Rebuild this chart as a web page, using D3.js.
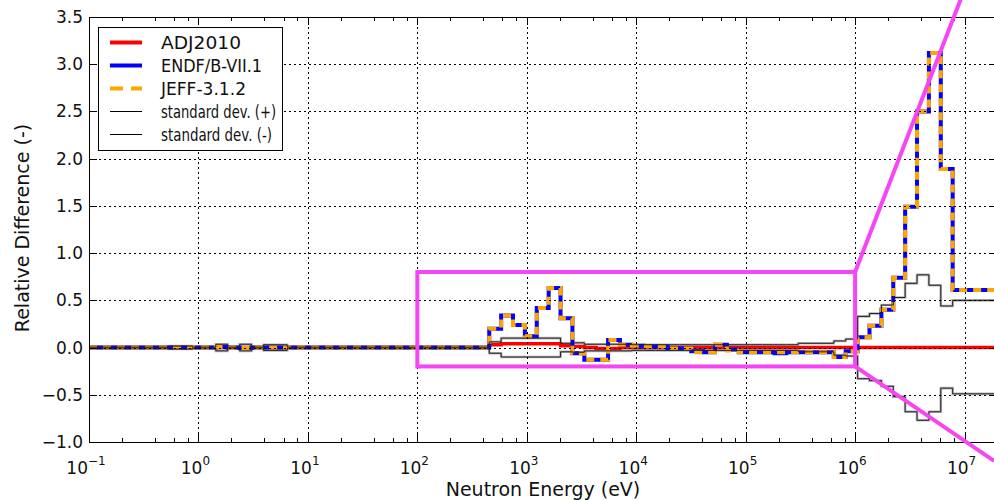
<!DOCTYPE html>
<html>
<head>
<meta charset="utf-8">
<script src="https://cdn.jsdelivr.net/npm/d3@7"></script>
<style>
body { margin: 0; background: #fff; }
svg { display: block; font-family: "DejaVu Sans", sans-serif; }
</style>
</head>
<body>
<svg id="chart" width="994" height="500"></svg>
<script>
// group boundaries (eV), one more than the values per series
var bounds = [0.1, 0.54, 0.88, 1.44, 1.85, 2.38, 3.06, 3.93, 6.48, 22.6, 148.6, 454,
    583, 748.5, 961.1, 1234, 1585, 2035, 2613, 3355, 4307, 5531, 7102, 9119,
    11709, 15034, 19305, 24788, 31828, 40868, 52475, 67379, 86517, 111090, 142642,
    183156, 235177, 301974, 387742, 497871, 639279, 820850, 1053992, 1353353,
    1737739, 2231302, 2865048, 3678794, 4723666, 6065307, 7788008, 19640000]

var adj2010 = [0, 0, 0, 0, 0, 0, 0, 0, 0, 0, 0,
    0.03, 0.04, 0.04, 0.04, 0.04, 0.04, 0.02, 0.01, 0, -0.01, -0.01, 0,
    0, 0, 0, 0, 0, 0, 0, 0, 0, 0, 0, 0, 0, 0, 0, 0, 0, 0, 0,
    0, 0, 0, 0, 0, 0, 0, 0, 0]

var endf = [0, 0, 0, 0.005, 0, -0.005, 0, 0, 0, 0, 0,
    0.20, 0.34, 0.24, 0.12, 0.42, 0.63, 0.31, -0.06, -0.13, -0.13, 0.08, 0.03,
    0.02, 0.01, 0.01, -0.01, -0.01, -0.04, -0.05, 0.03, -0.02, -0.05, -0.05, -0.05,
    -0.06, -0.05, -0.05, -0.05, -0.05, -0.10, -0.04,
    0.11, 0.23, 0.40, 0.74, 1.49, 2.50, 3.12, 1.89, 0.61]

var jeff = [0, 0, 0, 0.005, 0, -0.005, 0, 0, 0, 0, 0,
    0.20, 0.34, 0.24, 0.12, 0.42, 0.63, 0.31, -0.06, -0.13, -0.13, 0.08, 0.03,
    0.02, 0.01, 0.01, -0.01, -0.01, -0.05, -0.05, 0.03, -0.03, -0.05, -0.05, -0.05,
    -0.05, -0.05, -0.05, -0.05, -0.05, -0.10, -0.04,
    0.11, 0.23, 0.40, 0.74, 1.49, 2.50, 3.12, 1.89, 0.61]

var stdPlus = [0.005, 0.015, 0.005, 0.035, 0.005, 0.035, 0.005, 0.03, 0.005, 0.005, 0.005,
    0.06, 0.10, 0.10, 0.10, 0.10, 0.10, 0.045, 0.05, 0.035, 0.035, 0.035, 0.035,
    0.03, 0.03, 0.03, 0.03, 0.03, 0.03, 0.03, 0.03, 0.03, 0.03, 0.03, 0.03,
    0.03, 0.03, 0.045, 0.045, 0.045, 0.07, 0.09,
    0.33, 0.36, 0.45, 0.53, 0.68, 0.77, 0.66, 0.44, 0.50]

var stdMinus = [-0.005, -0.015, -0.005, -0.035, -0.005, -0.035, -0.005, -0.03, -0.005, -0.005, -0.005,
    -0.06, -0.10, -0.10, -0.10, -0.10, -0.10, -0.045, -0.05, -0.035, -0.035, -0.035, -0.035,
    -0.03, -0.03, -0.03, -0.03, -0.03, -0.03, -0.03, -0.03, -0.03, -0.03, -0.03, -0.03,
    -0.03, -0.03, -0.045, -0.045, -0.045, -0.08, -0.09,
    -0.33, -0.35, -0.41, -0.52, -0.68, -0.77, -0.68, -0.43, -0.49]

var seriesNames = ["ADJ2010", "ENDF/B-VII.1", "JEFF-3.1.2", "standard dev. (+)", "standard dev. (-)"]
var yTicks = [-1.0, -0.5, 0.0, 0.5, 1.0, 1.5, 2.0, 2.5, 3.0, 3.5]
var xExponents = [-1, 0, 1, 2, 3, 4, 5, 6, 7]

// magenta zoom box and its connector lines, in data units
var zoomBox = [[100, -0.2], [1e6, 0.8]]
var connectors = [[[1e6, 0.8], [1.86e7, 4.6]], [[1e6, -0.2], [1.86e7, -1.2]]]

var svg = d3.select("#chart")
var pLeft = 89, pTop = 17, pBottom = 442, pRight = 997.5

var x = d3.scaleLog().domain([0.1, 2e7]).range([pLeft, pRight])
var y = d3.scaleLinear().domain([-1, 3.5]).range([pBottom, pTop])

svg.append("defs").append("clipPath").attr("id", "plotclip")
    .append("rect").attr("x", pLeft).attr("y", pTop)
    .attr("width", pRight - pLeft).attr("height", pBottom - pTop)

function steps(vals) {
    var pts = vals.map(function(v, i) { return [bounds[i], v] })
    pts.push([bounds[bounds.length - 1], vals[vals.length - 1]])
    return pts
}
var stepLine = d3.line()
    .x(function(d) { return x(d[0]) })
    .y(function(d) { return y(d[1]) })
    .curve(d3.curveStepAfter)

var plot = svg.append("g").attr("clip-path", "url(#plotclip)")

// grey halo of the std lines sits under the data
;[stdPlus, stdMinus].forEach(function(s) {
    plot.append("path").attr("d", stepLine(steps(s)))
        .attr("fill", "none").attr("stroke", "#b4b4b4").attr("stroke-width", 2.6)
})
plot.append("path").attr("d", stepLine(steps(adj2010)))
    .attr("fill", "none").attr("stroke", "red").attr("stroke-width", 3.5)
plot.append("path").attr("d", stepLine(steps(endf)))
    .attr("fill", "none").attr("stroke", "blue").attr("stroke-width", 4)
plot.append("path").attr("d", stepLine(steps(jeff)))
    .attr("fill", "none").attr("stroke", "orange").attr("stroke-width", 4)
    .attr("stroke-dasharray", "8,6")
;[stdPlus, stdMinus].forEach(function(s) {
    plot.append("path").attr("d", stepLine(steps(s)))
        .attr("fill", "none").attr("stroke", "#222").attr("stroke-width", 1)
})

// grid on top of the data (old matplotlib default)
var grid = svg.append("g").attr("stroke", "#000").attr("stroke-width", 1)
    .attr("stroke-dasharray", "2,3")
xExponents.slice(1).forEach(function(e) {
    var gx = Math.round(x(Math.pow(10, e))) + 0.5
    grid.append("line").attr("x1", gx).attr("x2", gx).attr("y1", pTop).attr("y2", pBottom)
})
yTicks.slice(1, -1).forEach(function(t) {
    var gy = Math.round(y(t)) + 0.5
    grid.append("line").attr("x1", pLeft).attr("x2", pRight).attr("y1", gy).attr("y2", gy)
})

// frame and ticks
svg.append("rect").attr("x", pLeft + 0.5).attr("y", pTop + 0.5)
    .attr("width", pRight - pLeft).attr("height", pBottom - pTop)
    .attr("fill", "none").attr("stroke", "#000").attr("stroke-width", 1)

var ticks = svg.append("g").attr("stroke", "#000").attr("stroke-width", 1)
yTicks.forEach(function(t) {
    var ty = Math.round(y(t)) + 0.5
    ticks.append("line").attr("x1", pLeft).attr("x2", pLeft + 8).attr("y1", ty).attr("y2", ty)
    ticks.append("line").attr("x1", pRight - 8).attr("x2", pRight).attr("y1", ty).attr("y2", ty)
})
xExponents.forEach(function(e) {
    var d = Math.pow(10, e)
    var tx = Math.round(x(d)) + 0.5
    ticks.append("line").attr("x1", tx).attr("x2", tx).attr("y1", pBottom).attr("y2", pBottom - 8)
    ticks.append("line").attr("x1", tx).attr("x2", tx).attr("y1", pTop).attr("y2", pTop + 8)
    ;[2, 4, 6, 8].forEach(function(m) {
        if (d * m > 2e7) return
        var mx = Math.round(x(d * m)) + 0.5
        ticks.append("line").attr("x1", mx).attr("x2", mx).attr("y1", pBottom).attr("y2", pBottom - 4)
        ticks.append("line").attr("x1", mx).attr("x2", mx).attr("y1", pTop).attr("y2", pTop + 4)
    })
})

// tick labels
var fmt = d3.format(".1f")
yTicks.forEach(function(t) {
    svg.append("text").attr("x", 83).attr("y", y(t) + 6)
        .attr("text-anchor", "end").attr("font-size", 17).attr("fill", "#111")
        .text(fmt(t))
})
xExponents.forEach(function(e) {
    var lab = svg.append("text").attr("x", x(Math.pow(10, e)) - 3).attr("y", 474)
        .attr("text-anchor", "middle").attr("font-size", 17).attr("fill", "#111")
    lab.append("tspan").text("10")
    lab.append("tspan").attr("dy", -9).attr("font-size", 12)
        .text(e < 0 ? "\u2212" + (-e) : e)
})

// axis titles
svg.append("text").attr("x", 543).attr("y", 496).attr("text-anchor", "middle")
    .attr("font-size", 19).attr("fill", "#111").text("Neutron Energy (eV)")
svg.append("text").attr("transform", "translate(29,228) rotate(-90)")
    .attr("text-anchor", "middle").attr("font-size", 19).attr("fill", "#111")
    .text("Relative Difference (-)")

// legend
var lg = svg.append("g")
lg.append("rect").attr("x", 98.5).attr("y", 27.5).attr("width", 184).attr("height", 123)
    .attr("fill", "#fff").attr("stroke", "#000").attr("stroke-width", 1)
var legendStyles = [
    {stroke: "red", width: 4, dash: null, len: 80},
    {stroke: "blue", width: 4, dash: null, len: 101},
    {stroke: "orange", width: 4, dash: "13,8", len: 85},
    {stroke: "#000", width: 1, dash: null, len: 115},
    {stroke: "#000", width: 1, dash: null, len: 111}
]
seriesNames.forEach(function(name, i) {
    var ly = 42.5 + i * 23
    var st = legendStyles[i]
    lg.append("line").attr("x1", 110).attr("x2", 142).attr("y1", ly).attr("y2", ly)
        .attr("stroke", st.stroke).attr("stroke-width", st.width)
        .attr("stroke-dasharray", st.dash)
    lg.append("text").attr("x", 161).attr("y", ly + 6).attr("font-size", 17)
        .attr("textLength", st.len).attr("lengthAdjust", "spacingAndGlyphs")
        .attr("fill", "#111").text(name)
})

// magenta zoom annotation
var mag = "#f545f5"
svg.append("rect")
    .attr("x", x(zoomBox[0][0])).attr("y", y(zoomBox[1][1]))
    .attr("width", x(zoomBox[1][0]) - x(zoomBox[0][0]))
    .attr("height", y(zoomBox[0][1]) - y(zoomBox[1][1]))
    .attr("fill", "none").attr("stroke", mag).attr("stroke-width", 4)
connectors.forEach(function(c) {
    svg.append("line")
        .attr("x1", x(c[0][0])).attr("y1", y(c[0][1]))
        .attr("x2", x(c[1][0])).attr("y2", y(c[1][1]))
        .attr("stroke", mag).attr("stroke-width", 4)
})
</script>
</body>
</html>
